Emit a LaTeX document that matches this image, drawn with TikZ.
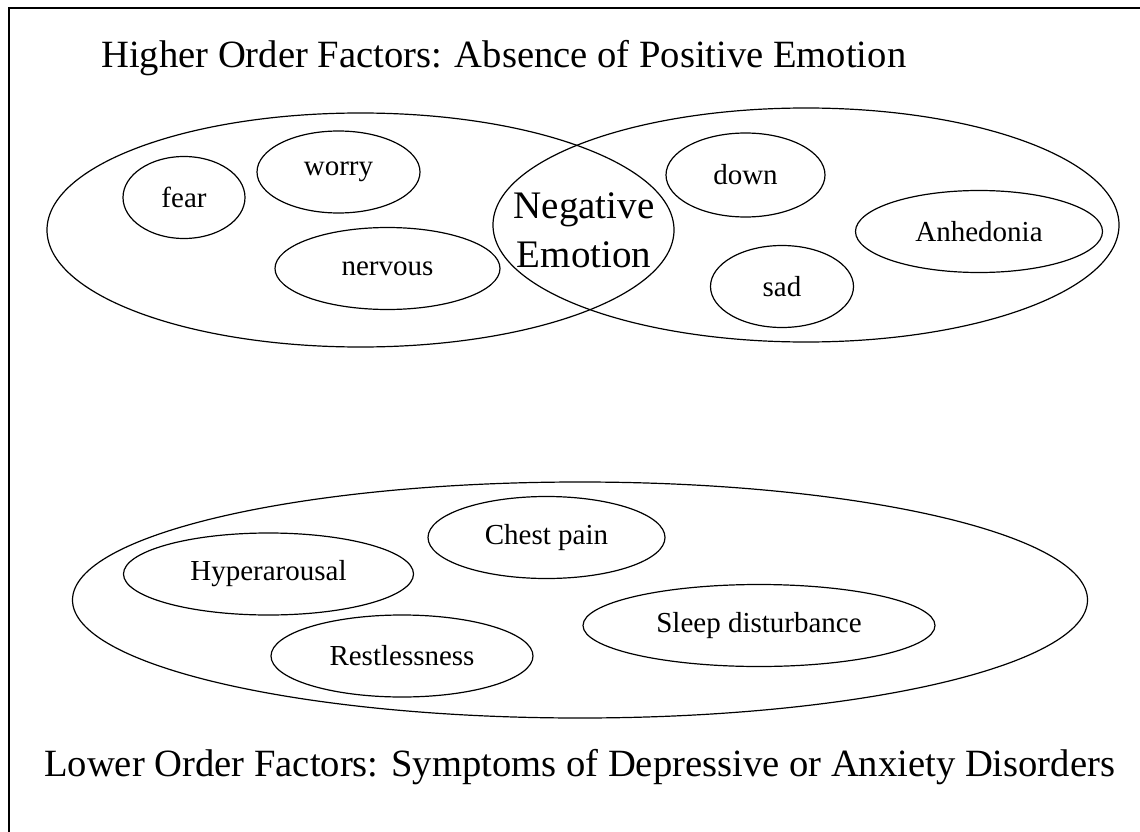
\documentclass[tikz,border=0pt]{standalone}
\usepackage{fontspec}
\setmainfont{Liberation Serif}
\usetikzlibrary{shapes.geometric}
\tikzset{%
  % Specifications for style of nodes:
     oval/.style = {ellipse, draw=black, line width=1.2pt, inner sep=0pt,
                    minimum height=82pt, text centered,
                    font=\fontsize{29}{34}\selectfont},
   bigoval/.style = {ellipse, draw=black, line width=1.2pt, inner sep=0pt},
  overlap/.style = {align=center, inner sep=0pt,
                    font=\fontsize{39}{49}\selectfont},
  heading/.style = {anchor=base west, inner sep=0pt,
                    font=\fontsize{38.6}{45}\selectfont},
}

\begin{document}
\begin{tikzpicture}[x=1pt, y=-1pt]
  \useasboundingbox (0,0) rectangle (1140,832);
  % Frame, only its top and left edges are in view
  \coordinate (frameTL) at (9,8);
  \coordinate (frameTR) at (1145,8);
  \coordinate (frameBL) at (9,840);
  \draw[line width=1.6pt] (frameTR) -- (frameTL) -- (frameBL);

  % Higher order factors
  \node (higher)    [heading] at (101,68) {Higher Order Factors: Absence of Positive Emotion};
  \node (anxiety)   [bigoval, minimum width=627pt, minimum height=234pt] at (360.5,230) {};
  \node (depress)   [bigoval, minimum width=626pt, minimum height=234pt] at (806,225) {};
  \node (negative)  [overlap] at (584,230) {Negative\\Emotion};
  \node (fear)      [oval, minimum width=122pt] at (184,197.5) {fear};
  \node (worry)     [oval, minimum width=163pt] at (338.5,172) {worry};
  \node (nervous)   [oval, minimum width=225pt] at (387.5,268.5) {nervous};
  \node (down)      [oval, minimum width=159pt, minimum height=84pt] at (745.5,175) {down};
  \node (sad)       [oval, minimum width=143pt] at (782,286.5) {sad};
  \node (anhedonia) [oval, minimum width=247pt] at (979,231.5) {Anhedonia};

  % Lower order factors
  \node (symptoms)  [bigoval, minimum width=1015pt, minimum height=236pt] at (580,600) {};
  \node (chest)     [oval, minimum width=237pt] at (546.5,537.5) {Chest pain};
  \node (hyper)     [oval, minimum width=290pt] at (268.5,574) {Hyperarousal};
  \node (restless)  [oval, minimum width=262pt] at (402,656) {Restlessness};
  \node (sleep)     [oval, minimum width=352pt] at (759,625.5) {Sleep disturbance};
  \node (lower)     [heading] at (44,776) {Lower Order Factors: Symptoms of Depressive or Anxiety Disorders};
\end{tikzpicture}
\end{document}
